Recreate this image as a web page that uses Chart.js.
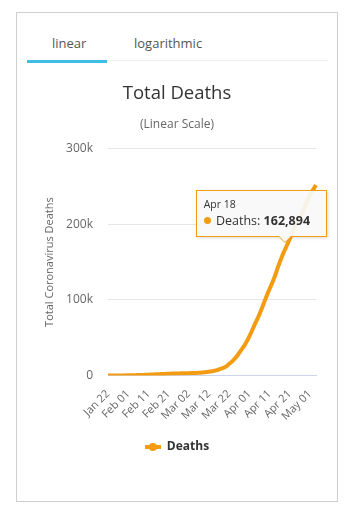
<!DOCTYPE html>
<html>
<head>
<meta charset="utf-8">
<script src="https://cdn.jsdelivr.net/npm/chart.js@4.4.0/dist/chart.umd.min.js"></script>
<style>
    body { margin: 0; background: #fff; font-family: "Open Sans", "Noto Sans", sans-serif; }
    .card { position: absolute; left: 16px; top: 12px; width: 322px; height: 490px; border: 1px solid #cfcfcf; box-sizing: border-box; }
    .tabs { position: absolute; left: 27px; top: 28px; width: 301px; height: 32px; border-bottom: 1px solid #eee; }
    .tab { position: absolute; top: 6px; font-size: 13px; color: #555; }
    .tab.active::after { content: ''; position: absolute; left: -25px; width: 80px; top: 26px; height: 3px; background: #3fbde6; }
    .chart-box { position: absolute; left: 17px; top: 72px; width: 320px; height: 408px; }
    #tip { position: absolute; width: 131px; height: 47px; box-sizing: border-box; border: 1px solid #f39c12;
           background: rgba(249,249,249,0.92); box-shadow: 1px 1px 3px rgba(0,0,0,0.15); font-size: 12.5px; color: #333; opacity: 0; }
    #tip .date { position: absolute; left: 7px; top: 6px; font-size: 10.5px; }
    #tip .row { position: absolute; left: 7px; top: 21px; white-space: nowrap; }
    #tip .dot { display: inline-block; width: 7px; height: 7px; border-radius: 50%; background: #f39c12; margin-right: 2px; vertical-align: 1px; }
    #tip .val { font-weight: bold; }
    #tip::before { content: ''; position: absolute; left: 81px; bottom: -7px; border: 7px solid transparent; border-bottom: 0; border-top-color: #f39c12; }
    #tip::after { content: ''; position: absolute; left: 82px; bottom: -6px; border: 6px solid transparent; border-bottom: 0; border-top-color: #f9f9f9; }
</style>
</head>
<body>
<div class="card"></div>
<div class="tabs">
    <span class="tab active" style="left:25px">linear</span>
    <span class="tab" style="left:107px">logarithmic</span>
</div>
<div class="chart-box"><canvas id="deathsChart"></canvas></div>
<div id="tip"><span class="date"></span><span class="row"><span class="dot"></span> Deaths: <span class="val"></span></span></div>

<script>
// Dates: Jan 22 .. May 04 (2020), labelled every 10 days
const startDate = new Date(2020, 0, 22);
const dayCount = 104;
const monthNames = ['Jan', 'Feb', 'Mar', 'Apr', 'May'];
const categories = [];
for (let i = 0; i < dayCount; i++) {
    const d = new Date(startDate.getFullYear(), startDate.getMonth(), startDate.getDate() + i);
    categories.push(monthNames[d.getMonth()] + ' ' + String(d.getDate()).padStart(2, '0'));
}

// Total deaths
const deaths = [
    17, 25, 41, 56, 80, 106, 132, 170, 213, 259,
    305, 362, 426, 492, 565, 638, 724, 813, 910, 1018, 1115, 1261, 1383, 1526, 1669,
    1775, 1873, 2009, 2126, 2247, 2360, 2460, 2618, 2699, 2763, 2800, 2858, 2923, 2977,
    3050, 3117, 3202, 3285, 3387, 3494, 3599, 3827, 4025, 4296, 4628, 4981, 5428, 5833,
    6520, 7166, 7966, 8997, 10034, 11334, 12987, 15500, 17500, 20000, 23000, 26200,
    30000, 33800, 37500, 41800, 46500,
    51800, 57500, 63500, 69500, 75000, 81000, 87500, 94500, 101500, 108000,
    114500, 120500, 127000, 134000, 142000, 149500, 156500, 162894, 168500, 174500,
    181000, 187500, 193800, 199900, 205200, 209100, 213400, 219800, 226700, 232400,
    238100, 243000, 247500, 252000
];

const yTicks = [0, 100000, 200000, 300000];
const highlightIndex = categories.indexOf('Apr 18');

const lineColor = '#f39c12';

// legend symbol: thick line with a dot, like the original
function legendIcon() {
    const c = document.createElement('canvas');
    c.width = 16; c.height = 10;
    const g = c.getContext('2d');
    g.fillStyle = lineColor;
    g.fillRect(0, 3, 16, 4);
    g.beginPath();
    g.arc(8, 5, 4, 0, Math.PI * 2);
    g.fill();
    return c;
}

// HTML tooltip so the value can be bold
function externalTooltip(context) {
    const tip = document.getElementById('tip');
    const model = context.tooltip;
    if (model.opacity === 0) { tip.style.opacity = 0; return; }
    const rect = context.chart.canvas.getBoundingClientRect();
    const dp = model.dataPoints[0];
    tip.querySelector('.date').textContent = dp.label;
    tip.querySelector('.val').textContent = dp.raw.toLocaleString('en-US');
    tip.style.left = (rect.left + model.caretX - 88) + 'px';
    tip.style.top = (rect.top + model.caretY - 62) + 'px';
    tip.style.opacity = 1;
}

const chart = new Chart(document.getElementById('deathsChart'), {
    type: 'line',
    data: {
        labels: categories,
        datasets: [{
            label: 'Deaths',
            data: deaths,
            borderColor: lineColor,
            backgroundColor: lineColor,
            borderWidth: 4,
            pointRadius: 0,
            pointHoverRadius: 0,
            tension: 0.3
        }]
    },
    options: {
        responsive: true,
        maintainAspectRatio: false,
        animation: false,
        events: [],
        layout: { padding: { left: 0, right: 0, top: 0, bottom: 17 } },
        plugins: {
            title: {
                display: true,
                text: 'Total Deaths',
                color: '#333',
                font: { family: '"Open Sans"', size: 18.5, weight: 'normal' },
                padding: { top: 11, bottom: 0 }
            },
            subtitle: {
                display: true,
                text: '(Linear Scale)',
                color: '#666',
                font: { family: '"Open Sans"', size: 12 },
                padding: { top: 12, bottom: 17 }
            },
            legend: {
                position: 'bottom',
                labels: {
                    usePointStyle: true,
                    pointStyle: legendIcon(),
                    pointStyleWidth: 16,
                    color: '#333',
                    font: { family: '"Open Sans"', size: 12, weight: 'bold' },
                    padding: 14
                }
            },
            tooltip: {
                enabled: false,
                external: externalTooltip
            }
        },
        scales: {
            x: {
                afterFit: function(scale) {
                    // keep the plot off the card's right edge
                    scale.paddingRight = 21;
                },
                grid: { display: false },
                border: { display: true, color: '#ccd6eb' },
                ticks: {
                    autoSkip: false,
                    maxRotation: 45,
                    minRotation: 45,
                    padding: 4,
                    color: '#666',
                    font: { family: '"Open Sans"', size: 11 },
                    callback: function(value, index) {
                        return index % 10 === 0 ? this.getLabelForValue(value) : '';
                    }
                }
            },
            y: {
                min: 0,
                max: 300000,
                afterBuildTicks: function(scale) {
                    scale.ticks = yTicks.map(v => ({ value: v }));
                },
                afterFit: function(scale) {
                    scale.width = 91;
                },
                grid: { color: '#e6e6e6', drawTicks: false },
                border: { display: false },
                ticks: {
                    padding: 15,
                    color: '#666',
                    font: { family: '"Open Sans"', size: 12 },
                    callback: function(value) {
                        return value === 0 ? '0' : (value / 1000) + 'k';
                    }
                },
                title: {
                    display: true,
                    text: 'Total Coronavirus Deaths',
                    color: '#666',
                    font: { family: '"Open Sans"', size: 11 },
                    padding: { top: 26, bottom: 0 }
                }
            }
        }
    }
});

// show the Apr 18 tooltip as in the screenshot
chart.setActiveElements([{ datasetIndex: 0, index: highlightIndex }]);
chart.tooltip.setActiveElements([{ datasetIndex: 0, index: highlightIndex }], { x: 0, y: 0 });
chart.update('none');
</script>
</body>
</html>
